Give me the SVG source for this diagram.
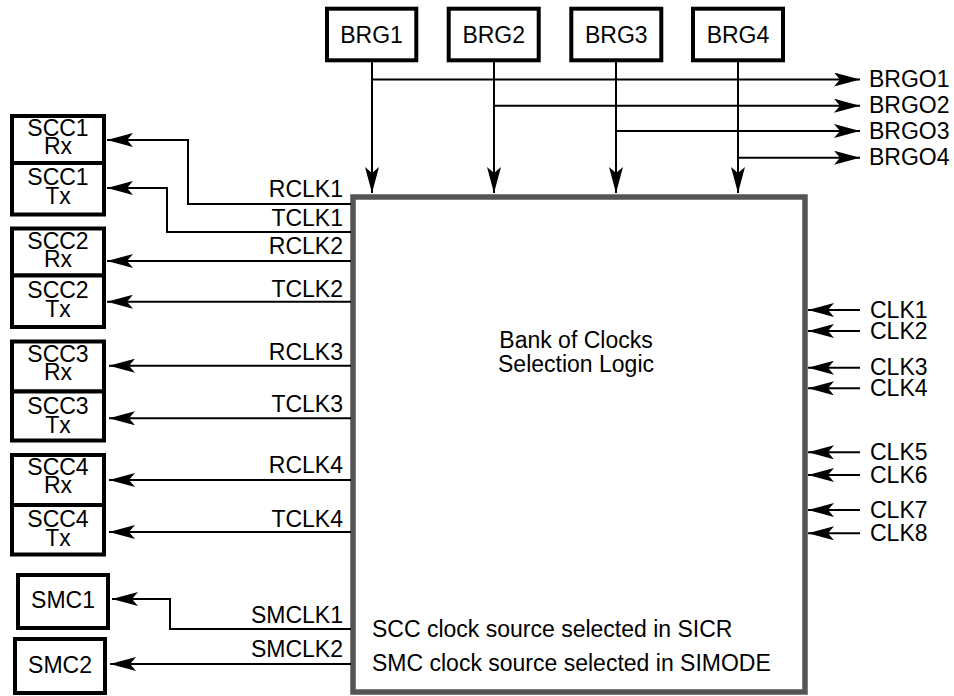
<svg xmlns="http://www.w3.org/2000/svg" width="954" height="696" viewBox="0 0 954 696">
<style>
text{font-family:"Liberation Sans",Arial,sans-serif;font-size:23px;fill:#000}
.c{text-anchor:middle}
.e{text-anchor:end}
.box{fill:#fff;stroke:#000;stroke-width:4}
.main{fill:#fff;stroke:#555;stroke-width:5.5}
.w{fill:none;stroke:#000;stroke-width:2}
.a{fill:none;stroke:#000;stroke-width:2;marker-end:url(#ah)}
</style>
<defs>
<marker id="ah" markerUnits="userSpaceOnUse" markerWidth="26" markerHeight="14" viewBox="0 0 26 14" refX="26" refY="7" orient="auto">
<path d="M0,0 L26,7 L0,14 L6,7 Z" fill="#000"/>
</marker>
</defs>
<g id="bank">
<rect class="main" x="353" y="197" width="452" height="495"/>
<text class="c" x="576" y="348">Bank of Clocks</text>
<text class="c" x="576" y="372">Selection Logic</text>
<text x="372" y="637">SCC clock source selected in SICR</text>
<text x="372" y="671">SMC clock source selected in SIMODE</text>
</g>
<g id="brg1"><rect class="box" x="327" y="8.7" width="89.3" height="51.6"/><text class="c" x="371.6" y="43.3">BRG1</text></g>
<g id="brg2"><rect class="box" x="448.7" y="8.7" width="90" height="51.6"/><text class="c" x="493.7" y="43.3">BRG2</text></g>
<g id="brg3"><rect class="box" x="571.3" y="8.7" width="90" height="51.6"/><text class="c" x="616.3" y="43.3">BRG3</text></g>
<g id="brg4"><rect class="box" x="693" y="8.7" width="90" height="51.6"/><text class="c" x="738" y="43.3">BRG4</text></g>
<g id="scc1-rx"><rect class="box" x="12" y="116" width="92" height="47"/><text class="c" x="58" y="136">SCC1</text><text class="c" x="58" y="154">Rx</text></g>
<g id="scc1-tx"><rect class="box" x="12" y="163" width="92" height="51.5"/><text class="c" x="58" y="185">SCC1</text><text class="c" x="58" y="204">Tx</text></g>
<g id="scc2-rx"><rect class="box" x="12" y="228.5" width="92" height="47"/><text class="c" x="58" y="248.5">SCC2</text><text class="c" x="58" y="266.5">Rx</text></g>
<g id="scc2-tx"><rect class="box" x="12" y="275.5" width="92" height="51.5"/><text class="c" x="58" y="297.5">SCC2</text><text class="c" x="58" y="316.5">Tx</text></g>
<g id="scc3-rx"><rect class="box" x="12" y="341.5" width="92" height="50"/><text class="c" x="58" y="361.5">SCC3</text><text class="c" x="58" y="379.5">Rx</text></g>
<g id="scc3-tx"><rect class="box" x="12" y="391.5" width="92" height="49"/><text class="c" x="58" y="413.5">SCC3</text><text class="c" x="58" y="432.5">Tx</text></g>
<g id="scc4-rx"><rect class="box" x="12" y="455" width="92" height="50"/><text class="c" x="58" y="475">SCC4</text><text class="c" x="58" y="493">Rx</text></g>
<g id="scc4-tx"><rect class="box" x="12" y="505" width="92" height="49.5"/><text class="c" x="58" y="527">SCC4</text><text class="c" x="58" y="546">Tx</text></g>
<g id="smc1"><rect class="box" x="18" y="575" width="90" height="53"/><text class="c" x="63" y="607.7">SMC1</text></g>
<g id="smc2"><rect class="box" x="15" y="639" width="90" height="54"/><text class="c" x="60" y="672.7">SMC2</text></g>
<g id="connectors">
<path class="a" d="M372,60 V193"/>
<path class="a" d="M494,60 V193"/>
<path class="a" d="M616,60 V193"/>
<path class="a" d="M738,60 V193"/>
<path class="a" d="M371,79.5 H860"/>
<path class="a" d="M493,105.7 H860"/>
<path class="a" d="M615,131 H860"/>
<path class="a" d="M737,157.7 H860"/>
<path class="a" d="M351,204 H188 V140 H107"/>
<path class="a" d="M351,232 H167 V188 H107"/>
<path class="a" d="M351,261 H107"/>
<path class="a" d="M351,301.7 H107"/>
<path class="a" d="M351,365.7 H109"/>
<path class="a" d="M351,418.3 H109"/>
<path class="a" d="M351,480 H109"/>
<path class="a" d="M351,532 H109"/>
<path class="a" d="M351,629 H170 V599 H112"/>
<path class="a" d="M351,664 H110"/>
<path class="a" d="M860,310 H808"/>
<path class="a" d="M860,331 H808"/>
<path class="a" d="M860,367.7 H808"/>
<path class="a" d="M860,388.3 H808"/>
<path class="a" d="M860,452.3 H808"/>
<path class="a" d="M860,475 H808"/>
<path class="a" d="M860,510 H808"/>
<path class="a" d="M860,533.3 H808"/>
<text x="869" y="87">BRGO1</text>
<text x="869" y="113.3">BRGO2</text>
<text x="869" y="138.7">BRGO3</text>
<text x="869" y="165.3">BRGO4</text>
<text class="e" x="343" y="196.5">RCLK1</text>
<text class="e" x="343" y="226">TCLK1</text>
<text class="e" x="343" y="254">RCLK2</text>
<text class="e" x="343" y="296.7">TCLK2</text>
<text class="e" x="343" y="360">RCLK3</text>
<text class="e" x="343" y="411.7">TCLK3</text>
<text class="e" x="343" y="473">RCLK4</text>
<text class="e" x="343" y="526.7">TCLK4</text>
<text class="e" x="343" y="623">SMCLK1</text>
<text class="e" x="343" y="656.7">SMCLK2</text>
<text x="870" y="317.5">CLK1</text>
<text x="870" y="338.5">CLK2</text>
<text x="870" y="375.2">CLK3</text>
<text x="870" y="395.8">CLK4</text>
<text x="870" y="459.8">CLK5</text>
<text x="870" y="482.5">CLK6</text>
<text x="870" y="517.5">CLK7</text>
<text x="870" y="540.8">CLK8</text>
</g>
</svg>
